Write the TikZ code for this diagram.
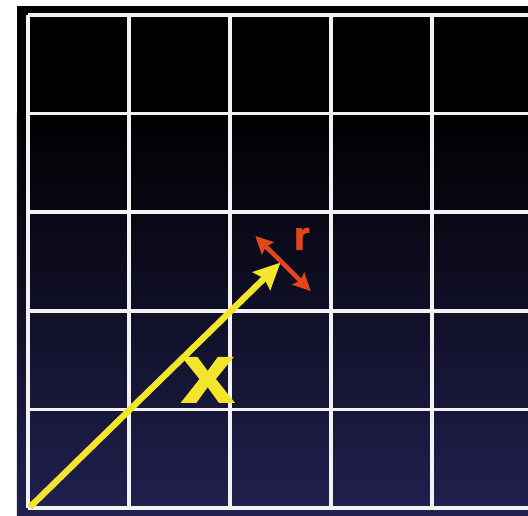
\documentclass[tikz,border=0pt]{standalone}
\usepackage{fontspec}
\setsansfont{Liberation Sans}
\newfontfamily\heavyfont[FakeBold=1.6]{Liberation Sans}
\usetikzlibrary{arrows.meta,positioning}
\definecolor{Night}{RGB}{33,32,80}
\definecolor{Dusk}{RGB}{13,12,42}
\definecolor{Sun}{HTML}{F2E52B}
\definecolor{Ember}{HTML}{E2461A}
\definecolor{Chalk}{HTML}{F2F2F4}
\tikzset{gridline/.style={draw=Chalk,line width=2pt},
  vec/.style={-{Stealth[length=15pt,width=14pt,inset=2pt]},draw=Sun,line width=3.6pt},
  span/.style={{Stealth[length=10pt,width=9.5pt,inset=1.5pt]}-{Stealth[length=10pt,width=9.5pt,inset=1.5pt]},draw=Ember,line width=2.6pt},
  tag/.style={inner sep=0pt}}

\begin{document}
\begin{tikzpicture}[x=2.02cm,y=1.972cm]
\useasboundingbox (-0.277,-0.071) rectangle (4.95,5.152);
\fill[white] (-0.277,-0.071) rectangle (4.95,5.152);
\fill[black] (-0.109,-0.071) rectangle (4.95,5.091);
\shade[top color=black,middle color=Dusk,bottom color=Night] (-0.109,-0.071) rectangle (4.95,4);
\foreach \i in {0,...,5} \draw[gridline] (0,\i) -- (4.95,\i);
\foreach \i in {0,...,4} \draw[gridline] (\i,0) -- (\i,5);
\coordinate (origin) at (0.02,0.01);
\coordinate (tip) at (2.5,2.49);
\coordinate (rA) at (2.25,2.76);
\coordinate (rB) at (2.8,2.2);
\draw[vec] (origin) -- (tip);
\draw[span] (rA) -- (rB);
\node[tag,text=Ember,font=\heavyfont\bfseries\fontsize{23}{23}\selectfont] (rlabel) at (2.71,2.73) {r};
\node[tag,text=Sun,xscale=1.12,font=\heavyfont\bfseries\fontsize{48}{48}\selectfont] (xlabel) at (1.78,1.3) {x};
\end{tikzpicture}
\end{document}
